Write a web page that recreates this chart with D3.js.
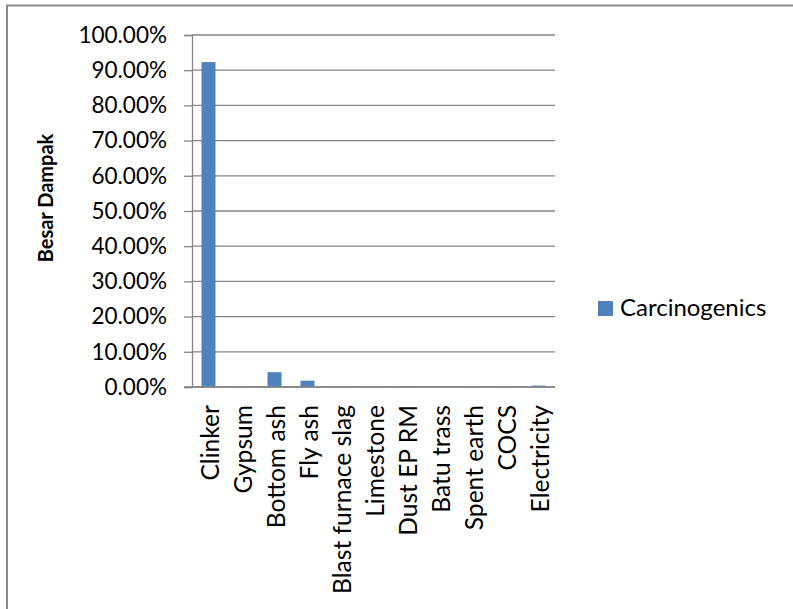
<!DOCTYPE html>
<html>
<head>
<meta charset="utf-8">
<script src="https://cdn.jsdelivr.net/npm/d3@7/dist/d3.min.js"></script>
<style>
  html, body { margin: 0; padding: 0; background: #fff; }
  svg { display: block; }
  text { font-family: Lato, "Open Sans", sans-serif; fill: #000; }
</style>
</head>
<body>
<svg id="chart" width="793" height="609"></svg>
<script>
// Impact share per input (Carcinogenics)
const categories = ["Clinker", "Gypsum", "Bottom ash", "Fly ash", "Blast furnace slag",
  "Limestone", "Dust EP RM", "Batu trass", "Spent earth", "COCS", "Electricity"];
const carcinogenics = [0.923, 0.0003, 0.042, 0.018, 0.0005, 0.0005, 0.002, 0.0002, 0.0004, 0.0003, 0.004];
const yTicks = [0, 0.1, 0.2, 0.3, 0.4, 0.5, 0.6, 0.7, 0.8, 0.9, 1.0];
const seriesName = "Carcinogenics";
const yTitle = "Besar Dampak";

const svg = d3.select("#chart");
const gridColor = "#868686";
const barColor = "#4F81BD";

// frame of the chart area
svg.append("path")
  .attr("d", "M7,609 V5.5 H793")
  .attr("fill", "none")
  .attr("stroke", "#8c8c8c")
  .attr("stroke-width", 2);

const plot = { left: 192, right: 555, top: 35, bottom: 387 };

const x = d3.scaleBand()
  .domain(categories)
  .range([plot.left, plot.right])
  .paddingInner(0.576)
  .paddingOuter(0.288);

const y = d3.scaleLinear()
  .domain([0, 1])
  .range([plot.bottom, plot.top]);

// horizontal gridlines
svg.append("g")
  .selectAll("line")
  .data(yTicks)
  .join("line")
  .attr("x1", plot.left)
  .attr("x2", plot.right)
  .attr("y1", d => y(d))
  .attr("y2", d => y(d))
  .attr("stroke", gridColor)
  .attr("stroke-width", 1.3);

// y axis with outward ticks
const yAxis = svg.append("g")
  .attr("transform", `translate(${plot.left},0)`)
  .call(d3.axisLeft(y).tickValues(yTicks).tickFormat(d3.format(".2%")).tickSize(8).tickPadding(17));
yAxis.select(".domain").attr("stroke", gridColor).attr("stroke-width", 1.3);
yAxis.selectAll(".tick line").attr("stroke", gridColor).attr("stroke-width", 1.3);
yAxis.selectAll(".tick text")
  .attr("font-size", 22.5)
  .attr("font-family", "Lato, sans-serif")
  .attr("fill", "#000");

// bars
svg.append("g")
  .selectAll("rect")
  .data(categories.map((c, i) => ({ c, v: carcinogenics[i] })))
  .join("rect")
  .attr("x", d => x(d.c))
  .attr("width", x.bandwidth())
  .attr("y", d => y(d.v))
  .attr("height", d => y(0) - y(d.v))
  .attr("fill", barColor);

// x axis baseline and rotated category labels
const xAxis = svg.append("g")
  .attr("transform", `translate(0,${plot.bottom})`)
  .call(d3.axisBottom(x).tickSize(0).tickPadding(0));
xAxis.select(".domain").remove();
xAxis.selectAll(".tick text")
  .attr("font-size", 24.6)
  .attr("font-family", "Lato, sans-serif")
  .attr("fill", "#000")
  .attr("text-anchor", "end")
  .attr("dy", null)
  .attr("y", 0)
  .attr("transform", "translate(10,18) rotate(-90)");

svg.append("line")
  .attr("x1", plot.left - 8)
  .attr("x2", plot.right)
  .attr("y1", plot.bottom)
  .attr("y2", plot.bottom)
  .attr("stroke", gridColor)
  .attr("stroke-width", 1.3);

// y axis title
svg.append("text")
  .attr("transform", "translate(53,198) rotate(-90)")
  .attr("text-anchor", "middle")
  .attr("font-size", 20)
  .attr("font-weight", "bold")
  .text(yTitle);

// legend
const legend = svg.append("g").attr("transform", "translate(598,301)");
legend.append("rect").attr("width", 15).attr("height", 15).attr("fill", barColor);
legend.append("text")
  .attr("x", 22)
  .attr("y", 15)
  .attr("font-size", 24)
  .text(seriesName);
</script>
</body>
</html>
